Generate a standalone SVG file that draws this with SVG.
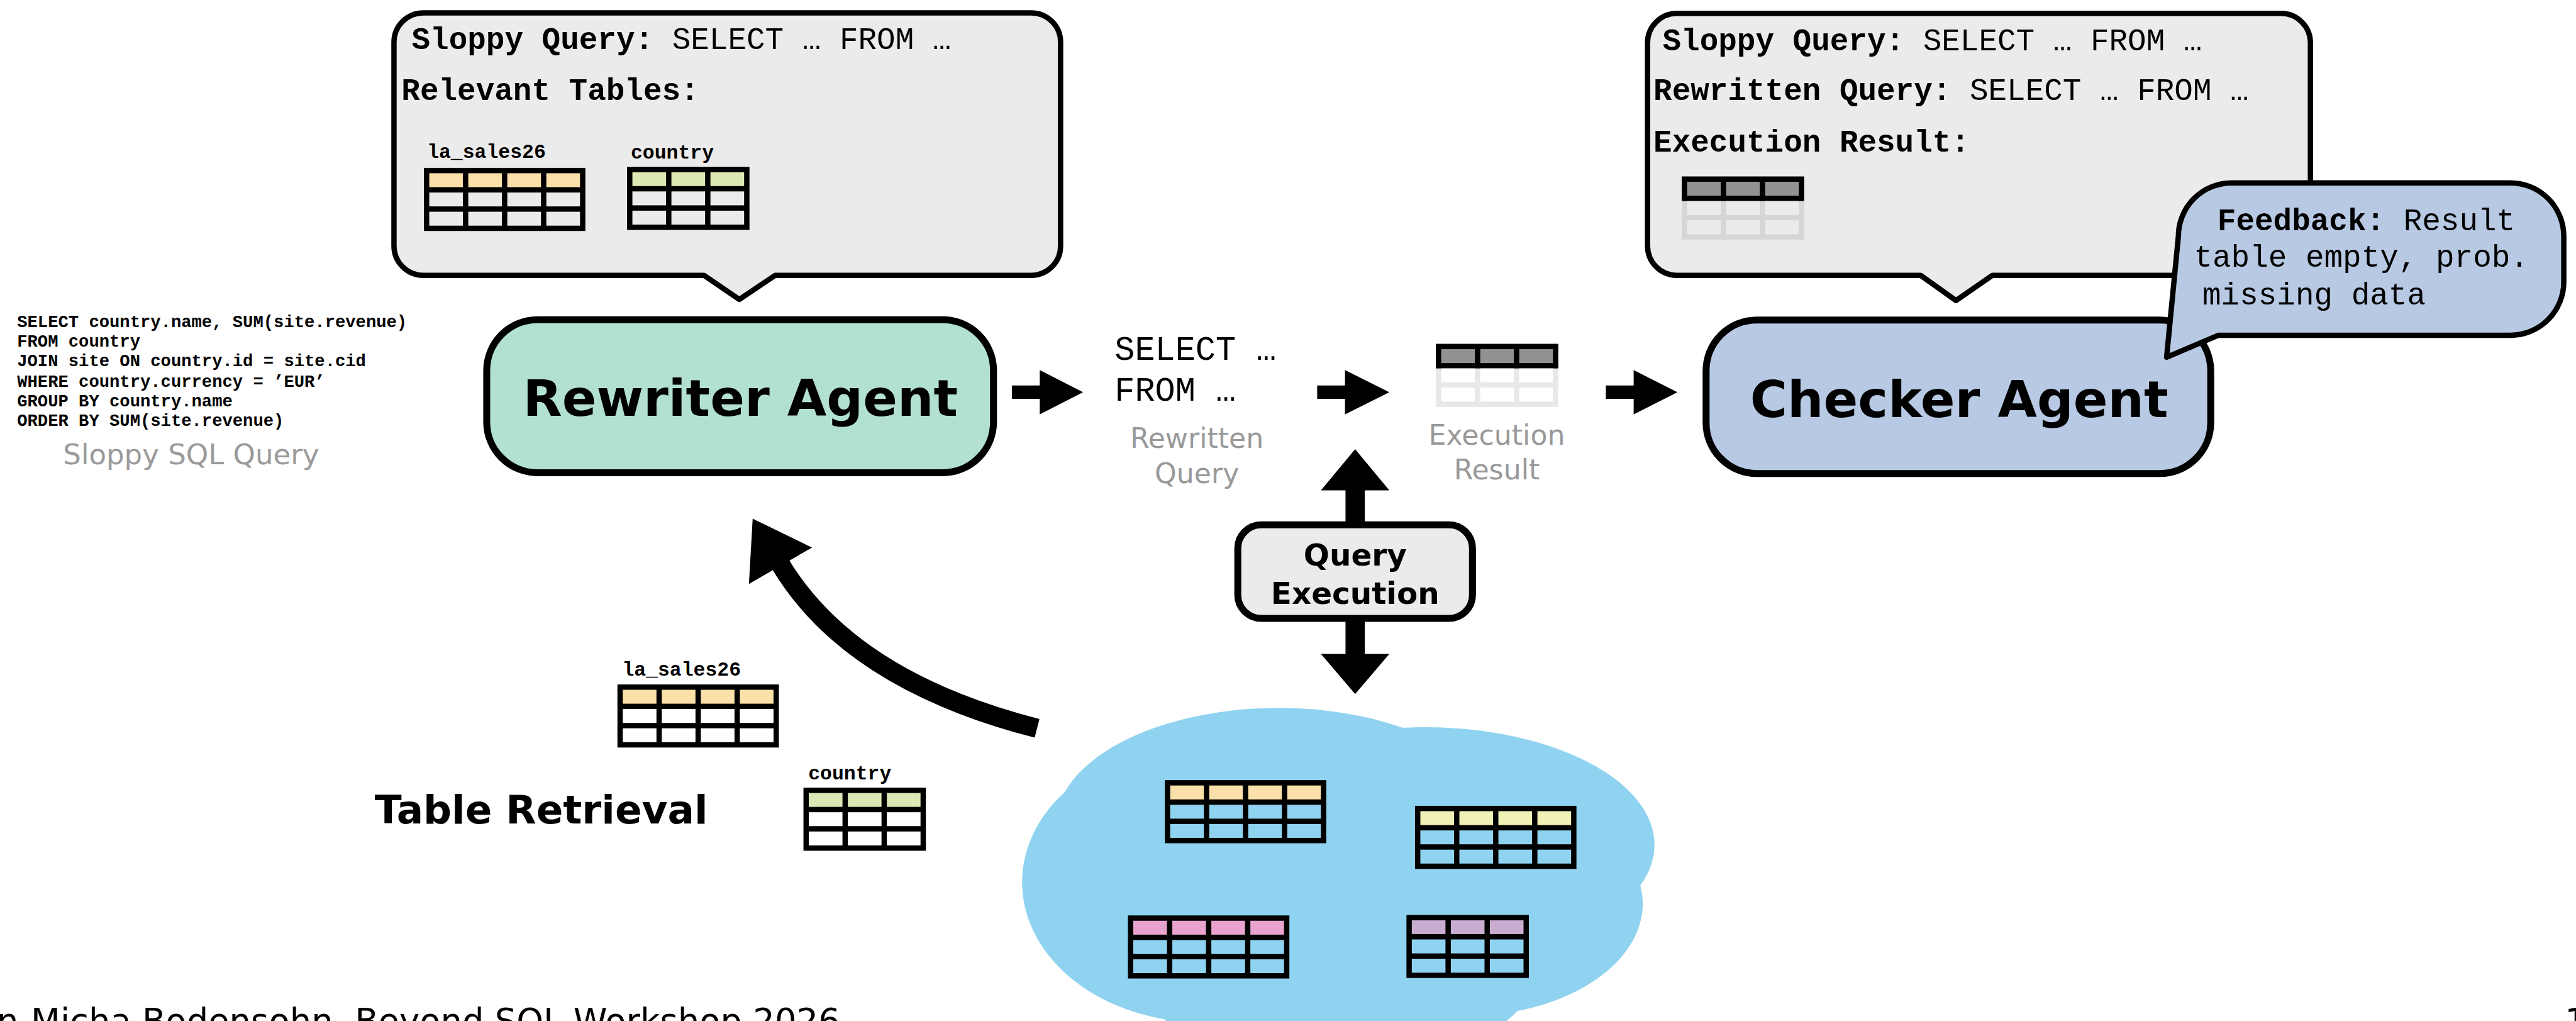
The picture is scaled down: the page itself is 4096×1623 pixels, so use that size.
<svg xmlns="http://www.w3.org/2000/svg" width="4096" height="1623" viewBox="0 0 4096 1623">
  <defs>
    <style>
      .mono { font-family: "Liberation Mono", "Courier New", monospace; }
      .bold { font-weight: bold; }
      .sans { font-family: "DejaVu Sans", Verdana, sans-serif; }
      .bubble { fill: #ebebeb; stroke: #000; stroke-width: 10; stroke-linejoin: round; }
      .fb { fill: #b8c9e3; stroke: #000; stroke-width: 10; stroke-linejoin: round; }
      .agent { stroke: #000; stroke-width: 13; }
      .title { font-family: "DejaVu Sans", Verdana, sans-serif; font-weight: bold; font-size: 95px; text-anchor: middle; fill: #000; }
      .lbl { font-family: "DejaVu Sans", Verdana, sans-serif; font-size: 52px; fill: #999; text-anchor: middle; }
      .code { font-family: "Liberation Mono", "Courier New", monospace; font-size: 58px; fill: #000; }
      .tname { font-family: "Liberation Mono", "Courier New", monospace; font-weight: bold; font-size: 37px; fill: #000; }
      .sql { font-family: "Liberation Mono", "Courier New", monospace; font-weight: bold; font-size: 32px; fill: #000; }
      .arrow { fill: #000; }
    </style>
    <!-- table building blocks: frame, header cells, body cells (fill set by <use>) -->
    <rect id="frame4" width="302" height="118"/>
    <rect id="frame3" width="229" height="118"/>
    <g id="head4">
      <rect x="10" y="10" width="63" height="26"/><rect x="83" y="10" width="63" height="26"/>
      <rect x="156" y="10" width="63" height="26"/><rect x="229" y="10" width="63" height="26"/>
    </g>
    <g id="head3">
      <rect x="10" y="10" width="63" height="26"/><rect x="83" y="10" width="63" height="26"/>
      <rect x="156" y="10" width="63" height="26"/>
    </g>
    <g id="body4">
      <rect x="10" y="46" width="63" height="26"/><rect x="83" y="46" width="63" height="26"/>
      <rect x="156" y="46" width="63" height="26"/><rect x="229" y="46" width="63" height="26"/>
      <rect x="10" y="82" width="63" height="26"/><rect x="83" y="82" width="63" height="26"/>
      <rect x="156" y="82" width="63" height="26"/><rect x="229" y="82" width="63" height="26"/>
    </g>
    <g id="body3">
      <rect x="10" y="46" width="63" height="26"/><rect x="83" y="46" width="63" height="26"/>
      <rect x="156" y="46" width="63" height="26"/>
      <rect x="10" y="82" width="63" height="26"/><rect x="83" y="82" width="63" height="26"/>
      <rect x="156" y="82" width="63" height="26"/>
    </g>
  </defs>

  <rect width="4096" height="1623" fill="#fff"/>

  <g transform="scale(0.85)">

    <!-- speech bubble above the rewriter -->
    <g id="rewriter-context">
      <path class="bubble" d="M792 24 H1929 A55 55 0 0 1 1984 79 V460 A55 55 0 0 1 1929 515 H1450 L1383 560 L1317 515 H792 A55 55 0 0 1 737 460 V79 A55 55 0 0 1 792 24 Z"/>
      <text class="code" x="770" y="92"><tspan class="bold">Sloppy Query:</tspan> SELECT … FROM …</text>
      <text class="code bold" x="751" y="187">Relevant Tables:</text>
      <text class="tname" x="799" y="295">la_sales26</text>
      <g transform="translate(793,314)">
        <use href="#frame4"/><use href="#head4" fill="#fbe0a9"/><use href="#body4" fill="#ebebeb"/>
      </g>
      <text class="tname" x="1180" y="297">country</text>
      <g transform="translate(1173,312)">
        <use href="#frame3"/><use href="#head3" fill="#dce8b3"/><use href="#body3" fill="#ebebeb"/>
      </g>
    </g>

    <!-- speech bubble above the checker -->
    <g id="checker-context">
      <path class="bubble" d="M3137 25 H4267 A55 55 0 0 1 4322 80 V460 A55 55 0 0 1 4267 515 H3727 L3659 562 L3593 515 H3137 A55 55 0 0 1 3082 460 V80 A55 55 0 0 1 3137 25 Z"/>
      <text class="code" x="3110" y="94"><tspan class="bold">Sloppy Query:</tspan> SELECT … FROM …</text>
      <text class="code" x="3093" y="187"><tspan class="bold">Rewritten Query:</tspan> SELECT … FROM …</text>
      <text class="code bold" x="3093" y="283">Execution Result:</text>
      <g transform="translate(3146,330)">
        <rect width="229" height="118" fill="#d6d6d6"/>
        <rect width="229" height="46" fill="#000"/>
        <use href="#head3" fill="#929292"/><use href="#body3" fill="#ebebeb"/>
      </g>
    </g>

    <!-- input query -->
    <g id="sloppy-query">
      <text class="sql" x="32" y="612">SELECT country.name, SUM(site.revenue)</text>
      <text class="sql" x="32" y="648">FROM country</text>
      <text class="sql" x="32" y="685">JOIN site ON country.id = site.cid</text>
      <text class="sql" x="32" y="723">WHERE country.currency = ’EUR’</text>
      <text class="sql" x="32" y="760">GROUP BY country.name</text>
      <text class="sql" x="32" y="797">ORDER BY SUM(site.revenue)</text>
      <text class="sans" x="118" y="868" font-size="53" fill="#9a9a9a">Sloppy SQL Query</text>
    </g>

    <!-- rewriter agent -->
    <g id="rewriter-agent">
      <rect class="agent" x="910.5" y="598" width="948" height="286" rx="95" fill="#b2e0d1"/>
      <text class="title" x="1385" y="778">Rewriter Agent</text>
    </g>

    <!-- rewritten query -->
    <g id="rewritten-query">
      <text class="mono" font-size="63" x="2085" y="673">SELECT …</text>
      <text class="mono" font-size="63" x="2085" y="750">FROM …</text>
      <text class="lbl" x="2239" y="838">Rewritten</text>
      <text class="lbl" x="2239" y="903">Query</text>
    </g>

    <!-- execution result -->
    <g id="execution-result">
      <g transform="translate(2686,643)">
        <rect width="229" height="118" fill="#e8e8e8"/>
        <rect width="229" height="46" fill="#000"/>
        <use href="#head3" fill="#929292"/><use href="#body3" fill="#fff"/>
      </g>
      <text class="lbl" x="2800" y="832">Execution</text>
      <text class="lbl" x="2800" y="897">Result</text>
    </g>

    <!-- checker agent -->
    <g id="checker-agent">
      <rect class="agent" x="3191.5" y="598.5" width="944" height="287" rx="95" fill="#b8c9e4"/>
      <text class="title" x="3665" y="780">Checker Agent</text>
    </g>

    <!-- feedback bubble -->
    <g id="feedback">
      <path class="fb" d="M4175 342 H4696 A100 100 0 0 1 4796 442 V527 A100 100 0 0 1 4696 627 H4150 L4053 668 L4075 442 A100 100 0 0 1 4175 342 Z"/>
      <text class="code" x="4148" y="431"><tspan class="bold">Feedback:</tspan> Result</text>
      <text class="code" x="4104" y="499">table empty, prob.</text>
      <text class="code" x="4120" y="569">missing data</text>
    </g>

    <!-- query execution -->
    <g id="query-execution">
      <rect class="agent" x="2315.5" y="981.5" width="439" height="175" rx="44" fill="#ebebeb"/>
      <text class="sans bold" x="2535" y="1058" font-size="57" text-anchor="middle">Query</text>
      <text class="sans bold" x="2535" y="1130" font-size="57" text-anchor="middle">Execution</text>
    </g>

    <!-- database cloud -->
    <g id="database">
      <g fill="#8fd3f0">
        <ellipse cx="2392" cy="1543" rx="417" ry="219"/>
        <ellipse cx="2665" cy="1580" rx="430" ry="220"/>
        <ellipse cx="2740" cy="1690" rx="333" ry="210"/>
        <ellipse cx="2250" cy="1650" rx="338" ry="262"/>
        <ellipse cx="2500" cy="1800" rx="380" ry="200"/>
      </g>
      <g transform="translate(2179,1459)">
        <use href="#frame4"/><use href="#head4" fill="#fbe0a9"/><use href="#body4" fill="#8fd3f0"/>
      </g>
      <g transform="translate(2647,1507)">
        <use href="#frame4"/><use href="#head4" fill="#f0f1b5"/><use href="#body4" fill="#8fd3f0"/>
      </g>
      <g transform="translate(2110,1712)">
        <use href="#frame4"/><use href="#head4" fill="#e8a3cf"/><use href="#body4" fill="#8fd3f0"/>
      </g>
      <g transform="translate(2631,1711)">
        <use href="#frame3"/><use href="#head3" fill="#c8add0"/><use href="#body3" fill="#8fd3f0"/>
      </g>
    </g>

    <!-- table retrieval -->
    <g id="table-retrieval">
      <text class="sans bold" x="701" y="1540" font-size="74">Table Retrieval</text>
      <text class="tname" x="1164" y="1263">la_sales26</text>
      <g transform="translate(1155,1280)">
        <use href="#frame4"/><use href="#head4" fill="#fbe0a9"/><use href="#body4" fill="#fff"/>
      </g>
      <text class="tname" x="1512" y="1458">country</text>
      <g transform="translate(1503,1473)">
        <use href="#frame3"/><use href="#head3" fill="#dce8b3"/><use href="#body3" fill="#fff"/>
      </g>
    </g>

    <!-- connectors -->
    <g id="connectors">
      <polygon class="arrow" points="1893,721 1945,721 1945,692 2026,733.5 1945,775 1945,746 1893,746"/>
      <polygon class="arrow" points="2464,721 2516,721 2516,692 2599,733.5 2516,775 2516,746 2464,746"/>
      <polygon class="arrow" points="3004,721 3056,721 3056,692 3138,733.5 3056,775 3056,746 3004,746"/>
      <polygon class="arrow" points="2535,840 2599,917 2553,917 2553,982 2517,982 2517,917 2471,917"/>
      <polygon class="arrow" points="2535,1298 2599,1223 2553,1223 2553,1156 2517,1156 2517,1223 2471,1223"/>
      <path d="M1940 1362 Q1588 1272 1458 1052" fill="none" stroke="#000" stroke-width="36"/>
      <polygon class="arrow" points="1408,970 1519,1024 1401,1092"/>
    </g>

    <!-- footer -->
    <text class="sans" x="-6" y="1932" font-size="64" fill="#000">n-Micha Bodensohn, Beyond SQL Workshop 2026</text>
    <text class="sans" x="4798" y="1932" font-size="64" fill="#000">1</text>
  </g>
</svg>
